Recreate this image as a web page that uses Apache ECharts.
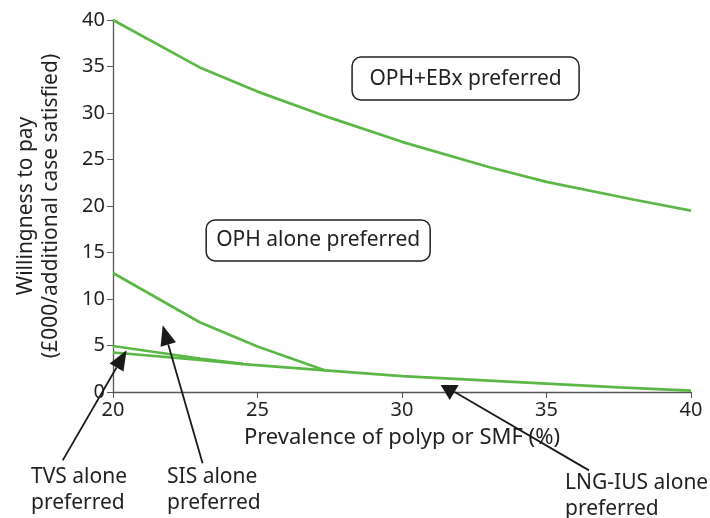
<!DOCTYPE html>
<html><head><meta charset="utf-8">
<script src="https://cdn.jsdelivr.net/npm/echarts@6/dist/echarts.min.js"></script>
<style>html,body{margin:0;padding:0;background:#fff}#c{width:710px;height:518px}</style>
</head><body><div id="c"></div>
<script>
// Threshold lines (x = prevalence %, y = WTP £000)
const ophEbxLine = [[20,40],[23,34.9],[25,32.3],[27.5,29.5],[30,26.9],[33,24.2],[35,22.6],[38,20.7],[40,19.5]];
const sisOphLine = [[20,12.8],[23,7.5],[25,4.9],[27.35,2.32]];
const tvsSisLine = [[20,4.95],[23,3.6],[24.5,3.02]];
const lowerLine  = [[20,4.25],[23,3.45],[24.5,3.0],[27.35,2.32],[30,1.7],[32.5,1.3],[35,0.9],[37.5,0.5],[40,0.15]];
const xTicks = [20,25,30,35,40];
const yTicks = [0,5,10,15,20,25,30,35,40];
const regionBoxes = [
  {text:'OPH+EBx preferred', at:[32.2,33.7]},
  {text:'OPH alone preferred', at:[27.1,16.3]}
];
const arrowNotes = [
  {text:'TVS alone\npreferred', from:[18.26,-7.35], tip:[20.47,4.5]},
  {text:'SIS alone\npreferred', from:[23.1,-7.67], tip:[21.72,7.18]},
  {text:'LNG-IUS alone\npreferred', from:[36.47,-8.43], tip:[31.65,-0.85]}
];

// layout / style (not data)
const boxSize = [[227,43],[224,41]];
const labelPos = [[31,477],[167,477],[565,483]];
const flatHead = [false,false,true];

const FONT = '"Noto Sans", sans-serif';
const TXT = '#231f20';
const GREEN = '#5cb846';
const chart = echarts.init(document.getElementById('c'));
function lineSeries(d){return {type:'line',data:d,symbol:'none',lineStyle:{color:GREEN,width:2.7},z:3,animation:false};}
chart.setOption({
  animation:false,
  grid:{left:113,right:19,top:20,bottom:126,containLabel:false},
  xAxis:{type:'value',min:20,max:40,interval:5,
    name:'Prevalence of polyp or SMF (%)',nameLocation:'middle',nameGap:35,
    nameTextStyle:{fontFamily:FONT,fontSize:22,color:TXT},
    axisLine:{onZero:false,lineStyle:{color:'#555',width:1.3}},
    axisTick:{show:true,length:6,lineStyle:{color:'#555'}},
    axisLabel:{fontFamily:FONT,fontSize:20,color:TXT,margin:8},
    splitLine:{show:false}},
  yAxis:{type:'value',min:0,max:40,interval:5,
    name:'Willingness to pay\n(£000/additional case satisfied)',nameLocation:'middle',nameGap:49,
    nameTextStyle:{fontFamily:FONT,fontSize:21,color:TXT,lineHeight:25},
    axisLine:{show:true,lineStyle:{color:'#555',width:1.3}},
    axisTick:{show:true,length:6,lineStyle:{color:'#555'}},
    axisLabel:{fontFamily:FONT,fontSize:20,color:TXT,margin:8},
    splitLine:{show:false}},
  series:[lineSeries(ophEbxLine),lineSeries(sisOphLine),lineSeries(tvsSisLine),lineSeries(lowerLine)]
});

function px(p){return chart.convertToPixel({gridIndex:0},p);}
const g = [];
regionBoxes.forEach((b,i)=>{
  const c = px(b.at);
  const w = boxSize[i][0], h=boxSize[i][1];
  g.push({type:'rect',shape:{x:c[0]-w/2,y:c[1]-h/2,width:w,height:h,r:9},
    style:{fill:'#fff',stroke:'#231f20',lineWidth:1.5},z:10});
  g.push({type:'text',x:c[0],y:c[1],style:{text:b.text,font:'21px '+FONT,fill:TXT,align:'center',verticalAlign:'middle'},z:11});
});
arrowNotes.forEach((a,i)=>{
  const s = px(a.from), t = px(a.tip);
  const dx=t[0]-s[0], dy=t[1]-s[1], L=Math.hypot(dx,dy), ux=dx/L, uy=dy/L;
  let head, end;
  if(flatHead[i]){
    head=[[t[0]-9,t[1]-15],[t[0]+9,t[1]-15],[t[0],t[1]]];
    end=[t[0]+5,t[1]-8];
  } else {
    const hl=20, hw=8;
    const bx=t[0]-ux*hl, by=t[1]-uy*hl;
    head=[[t[0],t[1]],[bx-uy*hw,by+ux*hw],[bx+uy*hw,by-ux*hw]];
    end=[bx,by];
  }
  g.push({type:'line',shape:{x1:s[0],y1:s[1],x2:end[0],y2:end[1]},style:{stroke:'#1a1a1a',lineWidth:1.8},z:12});
  g.push({type:'polygon',shape:{points:head},style:{fill:'#1a1a1a'},z:12});
  a.text.split('\n').forEach((ln,k)=>{
    g.push({type:'text',x:labelPos[i][0],y:labelPos[i][1]+k*26,style:{text:ln,font:'21px '+FONT,fill:TXT,align:'left',verticalAlign:'middle'},z:12});
  });
});
chart.setOption({graphic:g});
</script></body></html>
